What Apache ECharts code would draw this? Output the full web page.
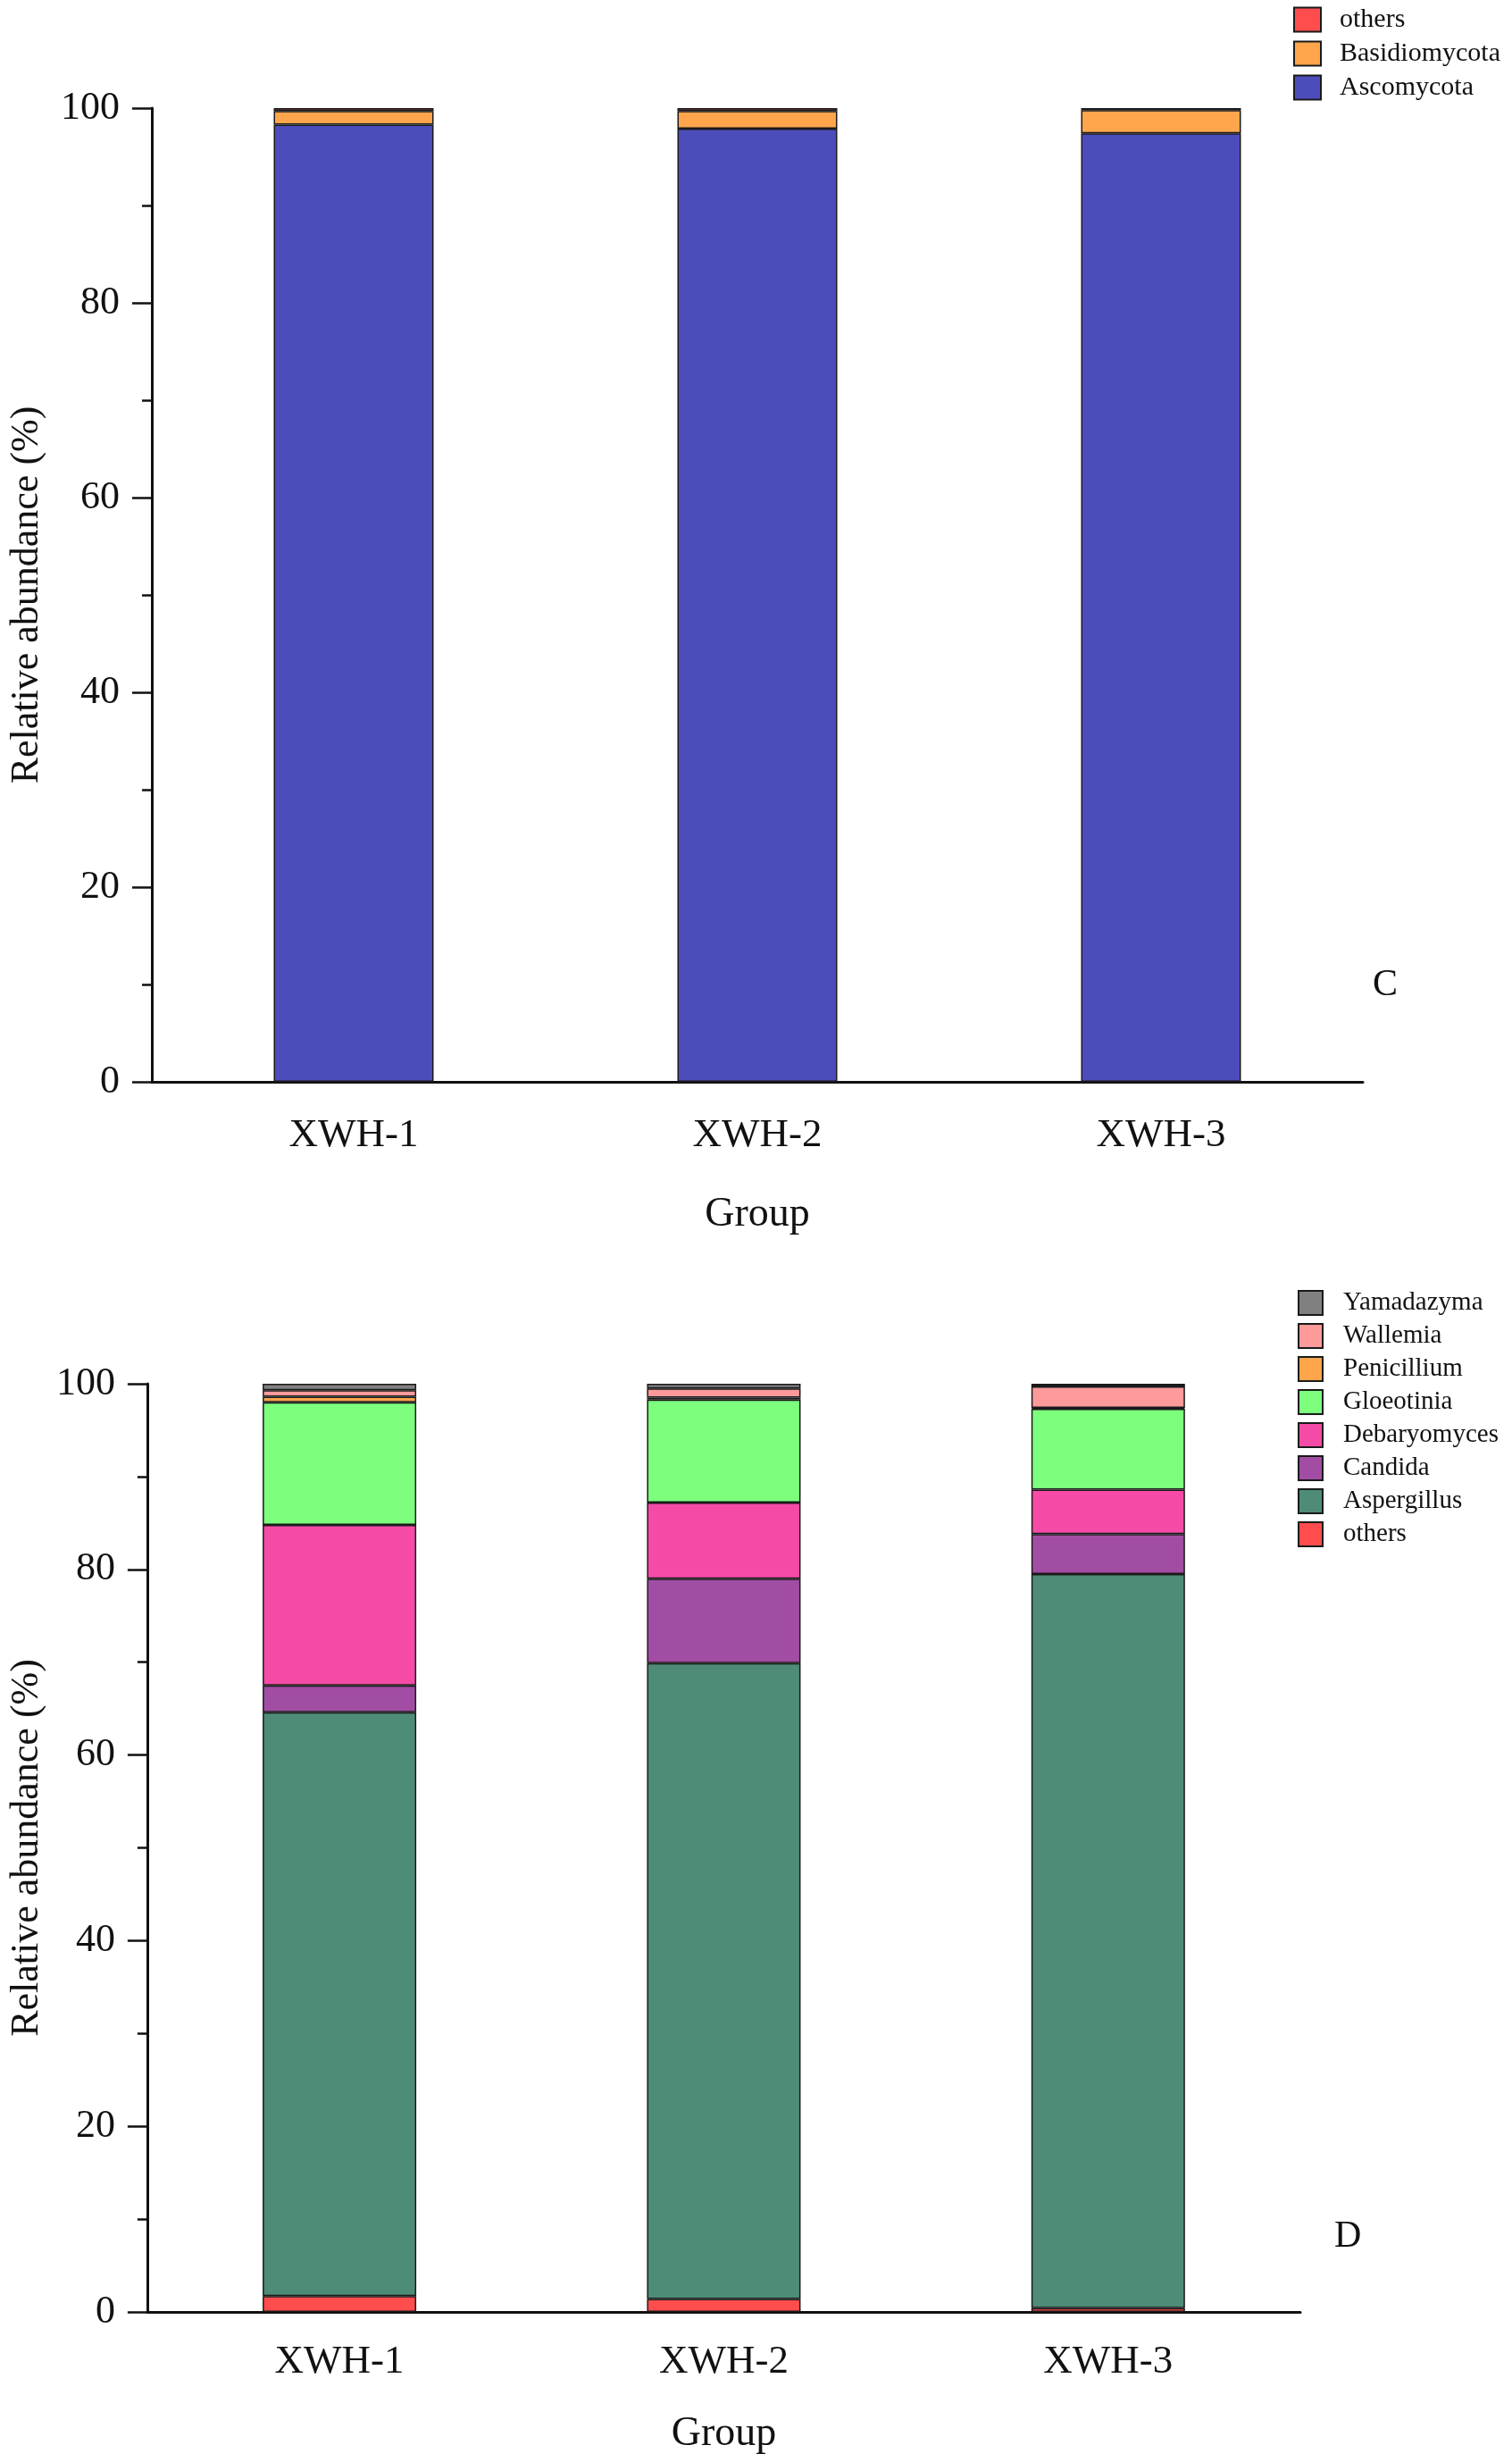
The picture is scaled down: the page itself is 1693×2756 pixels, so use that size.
<!DOCTYPE html>
<html>
<head>
<meta charset="utf-8">
<script src="https://cdn.jsdelivr.net/npm/echarts@6/dist/echarts.min.js"></script>
<style>html,body{margin:0;padding:0;background:#fff;}#c{width:1693px;height:2756px;}</style>
</head>
<body>
<div id="c"></div>
<script>
// ---- Data ----
const groups = ['XWH-1', 'XWH-2', 'XWH-3'];
const yTicks = [0, 20, 40, 60, 80, 100];

// Panel C (phylum)
const phylumNames = ['others', 'Basidiomycota', 'Ascomycota']; // legend order (top to bottom)
const ascomycota = [98.3, 97.9, 97.4];
const basidiomycota = [1.4, 1.8, 2.4];
const phylumOthers = [0.3, 0.3, 0.2];

// Panel D (genus)
const genusNames = ['Yamadazyma', 'Wallemia', 'Penicillium', 'Gloeotinia', 'Debaryomyces', 'Candida', 'Aspergillus', 'others'];
const genusOthers = [1.7, 1.4, 0.4];
const aspergillus = [62.9, 68.5, 79.1];
const candida = [2.9, 9.1, 4.3];
const debaryomyces = [17.3, 8.2, 4.8];
const gloeotinia = [13.2, 11.1, 8.7];
const penicillium = [0.6, 0.2, 0.1];
const wallemia = [0.7, 1.0, 2.3];
const yamadazyma = [0.7, 0.5, 0.3];

const colors = {
  'others': '#FF4D4D', 'Basidiomycota': '#FFA54C', 'Ascomycota': '#4C4DBB',
  'Yamadazyma': '#808080', 'Wallemia': '#FF9A9A', 'Penicillium': '#FFA54C',
  'Gloeotinia': '#7DFF7D', 'Debaryomyces': '#F54BA6', 'Candida': '#A24DA4',
  'Aspergillus': '#4E8C77'
};

const FONT = '"Liberation Serif", "Times New Roman", serif';

function bar(name, data, idx, width, stack) {
  return {
    name: name, type: 'bar', stack: stack, data: data,
    xAxisIndex: idx, yAxisIndex: idx, barWidth: width,
    itemStyle: { color: colors[name], borderColor: '#1a1a1a', borderWidth: 1.5 },
    emphasis: { disabled: true }
  };
}

function xAx(idx) {
  return {
    type: 'category', gridIndex: idx, data: groups,
    name: 'Group', nameLocation: 'middle', nameGap: idx === 0 ? 126 : 114,
    nameTextStyle: { fontFamily: FONT, fontSize: 46, color: '#111' },
    axisLine: { lineStyle: { color: '#111', width: 3 } },
    axisTick: { alignWithLabel: true, length: 21, lineStyle: { color: '#111', width: 2.5 } },
    axisLabel: { fontFamily: FONT, fontSize: 45, color: '#111', margin: idx === 0 ? 38 : 34 }
  };
}
function yAx(idx) {
  return {
    type: 'value', gridIndex: idx, min: 0, max: 100, interval: 20,
    name: 'Relative abundance (%)', nameLocation: 'middle', nameGap: idx === 0 ? 118 : 112,
    nameTextStyle: { fontFamily: FONT, fontSize: 44, color: '#111' },
    axisLine: { show: true, lineStyle: { color: '#111', width: 3 } },
    axisTick: { show: true, length: 22, lineStyle: { color: '#111', width: 2.5 } },
    minorTick: { show: true, splitNumber: 2, length: 11, lineStyle: { color: '#111', width: 2.5 } },
    splitLine: { show: false },
    axisLabel: { fontFamily: FONT, fontSize: 44, color: '#111', margin: 36,
      formatter: function (v) { return yTicks.indexOf(v) >= 0 ? String(v) : ''; } }
  };
}

const option = {
  backgroundColor: '#fff',
  animation: false,
  grid: [
    { left: 170, right: 167, top: 121, height: 1090 },
    { left: 161, right: 237, top: 1549, height: 1039 }
  ],
  xAxis: [xAx(0), xAx(1)],
  yAxis: [yAx(0), yAx(1)],
  legend: [
    { data: phylumNames, orient: 'vertical', left: 1443, top: 2, itemWidth: 30, itemHeight: 27, itemGap: 8,
      icon: 'rect', selectedMode: false,
      textStyle: { fontFamily: FONT, fontSize: 30, color: '#111', padding: [0, 0, 0, 16] } },
    { data: genusNames, orient: 'vertical', left: 1448, top: 1439, itemWidth: 27, itemHeight: 27, itemGap: 8,
      icon: 'rect', selectedMode: false,
      textStyle: { fontFamily: FONT, fontSize: 29, color: '#111', padding: [0, 0, 0, 18] } }
  ],
  series: [
    bar('Ascomycota', ascomycota, 0, 179, 'p'),
    bar('Basidiomycota', basidiomycota, 0, 179, 'p'),
    bar('others', phylumOthers, 0, 179, 'p'),
    bar('others', genusOthers, 1, 172, 'g'),
    bar('Aspergillus', aspergillus, 1, 172, 'g'),
    bar('Candida', candida, 1, 172, 'g'),
    bar('Debaryomyces', debaryomyces, 1, 172, 'g'),
    bar('Gloeotinia', gloeotinia, 1, 172, 'g'),
    bar('Penicillium', penicillium, 1, 172, 'g'),
    bar('Wallemia', wallemia, 1, 172, 'g'),
    bar('Yamadazyma', yamadazyma, 1, 172, 'g')
  ],
  graphic: [
    { type: 'text', left: 1537, top: 1082, style: { text: 'C', font: '42px ' + FONT, fill: '#111' } },
    { type: 'text', left: 1494, top: 2483, style: { text: 'D', font: '42px ' + FONT, fill: '#111' } }
  ]
};

const chart = echarts.init(document.getElementById('c'), null, { renderer: 'canvas' });
chart.setOption(option);
</script>
</body>
</html>
